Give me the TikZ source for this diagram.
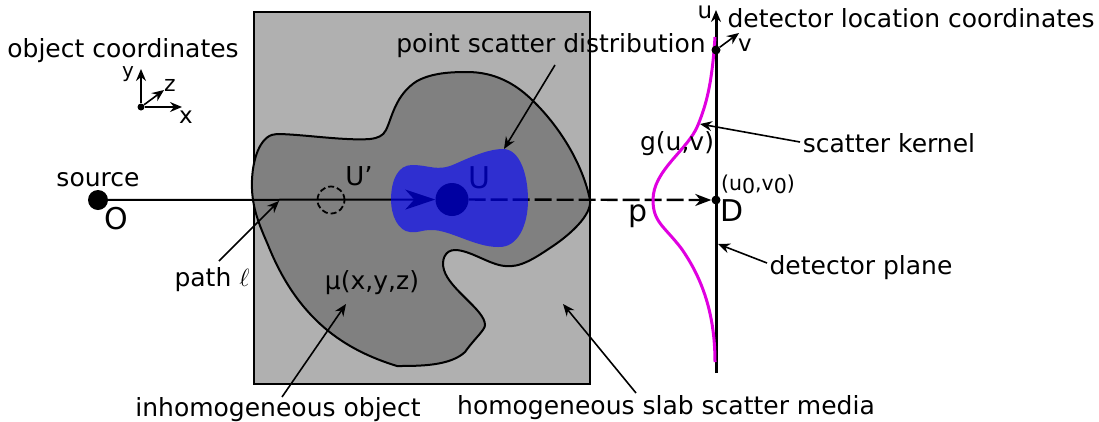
\documentclass[tikz,border=0pt]{standalone}
\usepackage{fontspec}
\setmainfont{DejaVu Sans}
\usepackage{xcolor}
\usetikzlibrary{arrows.meta, positioning}
\definecolor{slabgray}{HTML}{B0B0B0}
\definecolor{objgray}{HTML}{808080}
\definecolor{kernelmag}{HTML}{E000E0}
\tikzset{
  >={Stealth[length=12pt, width=10pt, inset=4pt]},
  lbl/.style={font=\fontsize{25}{30}\selectfont, inner sep=0pt},
  biglbl/.style={font=\fontsize{30}{36}\selectfont, inner sep=0pt},
  axislbl/.style={font=\fontsize{20}{24}\selectfont, inner sep=0pt},
  dotnode/.style={circle, fill=black, inner sep=0pt},
  ptr/.style={->, line width=1.6pt},
}

\begin{document}
\begin{tikzpicture}
  \begin{scope}[x=1pt, y=-1pt]
    \useasboundingbox (0,0) rectangle (1099,421);

    %% Slab and object
    \draw[fill=slabgray, line width=2.4pt] (254,12) rectangle (590,384);
    \draw[fill=objgray, line width=2pt]
      (252,180) .. controls (253,155) and (262,134) .. (277,134)
      .. controls (300,134) and (345,141) .. (370,139)
      .. controls (378,138) and (383,136) .. (386,130)
      .. controls (392,118) and (395,95) .. (417,81)
      .. controls (432,73) and (450,72) .. (467,72)
      .. controls (495,72) and (515,84) .. (530,98)
      .. controls (560,126) and (583,165) .. (590,200)
      .. controls (592,215) and (570,235) .. (550,248)
      .. controls (535,258) and (520,268) .. (505,266)
      .. controls (490,265) and (470,250) .. (455,250)
      .. controls (445,250) and (441,260) .. (444,270)
      .. controls (450,290) and (485,310) .. (485,325)
      .. controls (485,330) and (475,338) .. (465,352)
      .. controls (450,366) and (420,366) .. (397,366)
      .. controls (345,350) and (298,320) .. (268,245)
      .. controls (258,222) and (251,205) .. (252,180) -- cycle;

    %% Ray from source to detector
    \node[dotnode, minimum size=20pt] (srcdot) at (98,200) {};
    \node[dotnode, minimum size=33pt] (udot) at (452,199.5) {};
    \node[dotnode, minimum size=9pt] (ddot) at (716,200) {};
    \node[circle, draw, dash pattern=on 6pt off 3pt, line width=1.8pt, minimum size=27pt, inner sep=0pt] (uprime) at (331,200) {};
    \draw[-{Stealth[length=30pt, width=20pt, inset=9pt]}, line width=2pt] (srcdot) -- (udot);
    \draw[-{Stealth[length=16pt, width=12pt, inset=5pt]}, line width=2.4pt, dash pattern=on 17pt off 5pt] (udot) -- (ddot);
    \node[biglbl] (ulbl) at (479,178) {U};

    %% Point scatter distribution (lets the ray show through)
    \fill[blue, opacity=0.63]
      (391,200) .. controls (391,180) and (398,165) .. (412,165)
      .. controls (430,165) and (437,172) .. (455,164)
      .. controls (475,155) and (490,149) .. (503,149)
      .. controls (520,149) and (528,175) .. (528,200)
      .. controls (528,225) and (518,248) .. (498,247)
      .. controls (475,247) and (450,230) .. (432,230)
      .. controls (420,230) and (420,233) .. (410,232)
      .. controls (398,231) and (391,215) .. (391,200) -- cycle;

    %% Detector and scatter kernel
    \coordinate (dettop) at (716,10);
    \coordinate (detbot) at (716,373);
    \draw[->, line width=3pt] (detbot) -- (dettop);
    \draw[kernelmag, line width=3pt]
      (715,37) .. controls (712,85) and (706,105) .. (698,125)
      .. controls (688,150) and (653,170) .. (653,200)
      .. controls (653,222) and (664,226) .. (681,248)
      .. controls (700,275) and (715,310) .. (715,362);
    \node[dotnode, minimum size=9pt] (vdot) at (716,50) {};
    \coordinate (vtip) at (739,33);
    \draw[ptr] (vdot) -- (vtip);

    %% Object axes
    \node[dotnode, minimum size=7pt] (axo) at (141,107) {};
    \coordinate (axx) at (182,107);
    \coordinate (axy) at (141,69);
    \coordinate (axz) at (164,90);
    \foreach \t in {axx,axy,axz} {
      \draw[ptr] (axo) -- (\t);
    }
    \node[axislbl] (ylbl) at (128,74) {y};
    \node[inner sep=0pt, font=\fontsize{22}{26}\selectfont] (zlbl) at (170,85) {z};
    \node[inner sep=0pt, font=\fontsize{23}{27}\selectfont] (xlbl) at (186,117) {x};

    %% Labels
    \node[lbl] (objcoord) at (123,51) {object coordinates};
    \node[lbl] (srclbl) at (98,180) {source};
    \node[biglbl] (olbl) at (116,219) {O};
    \node[inner sep=0pt, font=\fontsize{26}{30}\selectfont] (uplbl) at (359,176) {U'};
    \node[lbl] (pathlbl) at (212,280) {path $\ell$};
    \node[lbl] (mulbl) at (372,283) {μ(x,y,z)};
    \node[lbl] (inhomo) at (278,410) {inhomogeneous object};
    \node[lbl] (homo) at (666,408) {homogeneous slab scatter media};
    \node[lbl] (pscat) at (551,46) {point scatter distribution};
    \node[lbl] (detloc) at (911,18) {detector location coordinates};
    \node[inner sep=0pt, font=\fontsize{23}{27}\selectfont] (ulab) at (705,12) {u};
    \node[inner sep=0pt, font=\fontsize{23}{27}\selectfont] (vlab) at (745,45) {v};
    \node[lbl] (gkern) at (677,144) {g(u,v)};
    \node[lbl] (skern) at (889,143) {scatter kernel};
    \node[inner sep=0pt, font=\fontsize{20.5}{24}\selectfont] (u0lbl) at (758,184) {(u\raisebox{-3pt}{0},v\raisebox{-3pt}{0})};
    \node[biglbl] (plbl) at (638,216) {p};
    \node[biglbl] (dlbl) at (732,211) {D};
    \node[lbl] (dplane) at (861,268) {detector plane};

    %% Pointers: (label end)/(tip)
    \coordinate (pathfrom) at (219,261);
    \coordinate (pathtip) at (279,201);
    \coordinate (psfrom) at (555,65);
    \coordinate (pstip) at (504,149);
    \coordinate (kfrom) at (800,142);
    \coordinate (ktip) at (700,124);
    \coordinate (dpfrom) at (767,263);
    \coordinate (dptip) at (718,244);
    \coordinate (iofrom) at (282,397);
    \coordinate (iotip) at (346,304);
    \coordinate (hofrom) at (636,393);
    \coordinate (hotip) at (563,304);
    \foreach \a/\b in {pathfrom/pathtip, psfrom/pstip, kfrom/ktip, dpfrom/dptip, iofrom/iotip, hofrom/hotip} {
      \draw[ptr] (\a) -- (\b);
    }
  \end{scope}
\end{tikzpicture}
\end{document}
